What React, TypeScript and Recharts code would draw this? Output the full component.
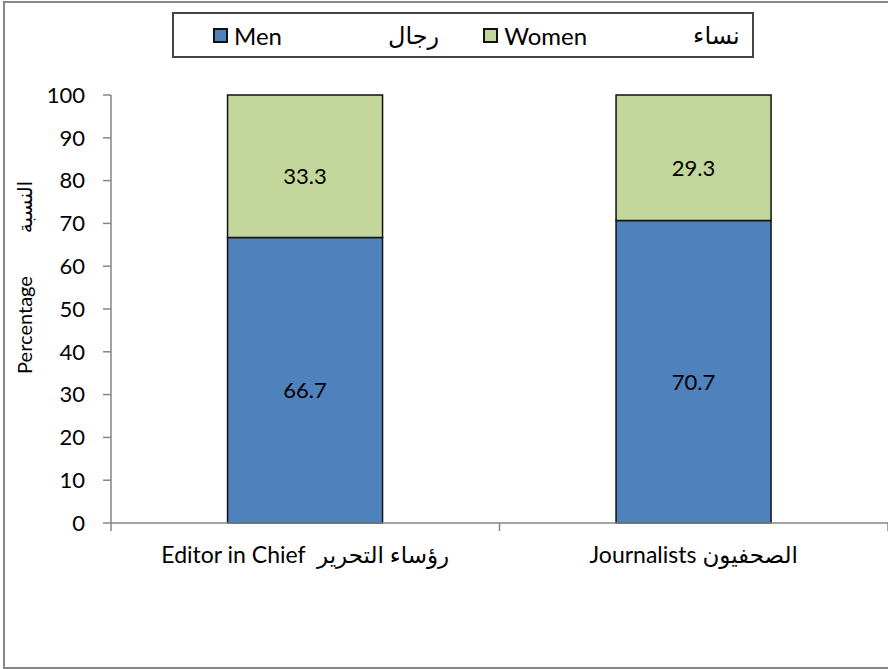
import React from 'react';
import { BarChart, Bar, XAxis, YAxis, LabelList } from 'recharts';

// values
const categories = ['Editor in Chief  رؤساء التحرير', 'Journalists الصحفيون'];
const menValues = [66.7, 70.7];
const womenValues = [33.3, 29.3];
const yTicks = [0, 10, 20, 30, 40, 50, 60, 70, 80, 90, 100];
const seriesKeys = ['men', 'women'];
const seriesEnglish = ['Men', 'Women'];
const seriesArabic = ['رجال', 'نساء'];
const axisTitleEnglish = 'Percentage';
const axisTitleArabic = 'النسبة';

const COLORS = ['#4F81BD', '#C3D69B'];
const FONT = "Lato, 'DejaVu Sans', sans-serif";
const AXIS_GRAY = '#868686';
const TICK_SIZE = 8;
const TICK_MARGIN = 12;

const data = categories.map((name, i) => ({
  name,
  men: menValues[i],
  women: womenValues[i]
}));

function CategoryTick(props: any) {
  const { x, y, payload, index, visibleTicksCount } = props;
  const half = payload && payload.offset ? payload.offset : 0;
  const axisY = y - TICK_SIZE - TICK_MARGIN;
  return (
    <g>
      <line x1={x - half} x2={x - half} y1={axisY} y2={axisY + TICK_SIZE} stroke={AXIS_GRAY} strokeWidth={1.5} />
      {index === visibleTicksCount - 1 && (
        <line x1={x + half} x2={x + half} y1={axisY} y2={axisY + TICK_SIZE} stroke={AXIS_GRAY} strokeWidth={1.5} />
      )}
      <text x={x} y={y} dy={20} textAnchor="middle" fill="#000" fontSize={23} fontFamily={FONT} style={{ whiteSpace: 'pre' }}>
        {payload.value}
      </text>
    </g>
  );
}

function AxisTitle(props: any) {
  const vb = props.viewBox || { x: 0, y: 0, height: 0 };
  const cy = vb.y + vb.height / 2;
  const cx = 32;
  return (
    <g fontFamily={FONT} fontSize={20} fill="#000">
      <text x={cx} y={cy + 16} textAnchor="middle" transform={`rotate(-90 ${cx} ${cy + 16})`}>
        {axisTitleEnglish}
      </text>
      <text x={cx} y={cy - 102} textAnchor="middle" transform={`rotate(-90 ${cx} ${cy - 102})`}>
        {axisTitleArabic}
      </text>
    </g>
  );
}

function LegendBox() {
  return (
    <div
      style={{
        position: 'absolute',
        left: 172,
        top: 12,
        width: 582,
        height: 46,
        boxSizing: 'border-box',
        border: '2px solid #444',
        background: '#fff',
        display: 'flex',
        alignItems: 'center',
        paddingLeft: 39,
        fontFamily: FONT,
        fontSize: 24,
        color: '#000'
      }}
    >
      {seriesKeys.map((k, i) => (
        <div key={k} style={{ display: 'flex', alignItems: 'center', marginRight: 44 }}>
          <span
            style={{
              display: 'inline-block',
              width: 15,
              height: 15,
              boxSizing: 'border-box',
              border: '2px solid #111',
              background: COLORS[i],
              marginRight: 6
            }}
          />
          <span>{seriesEnglish[i]}</span>
          <span style={{ marginLeft: 106 }}>{seriesArabic[i]}</span>
        </div>
      ))}
    </div>
  );
}

export default function App() {
  return (
    <div style={{ position: 'absolute', left: 0, top: 0, width: 888, height: 669, overflow: 'hidden', background: '#fff' }}>
      <div
        style={{
          position: 'absolute',
          left: 3,
          top: 1,
          width: 900,
          height: 668,
          boxSizing: 'border-box',
          border: '2px solid #888'
        }}
      />
      <div style={{ position: 'absolute', left: 0, top: 0 }}>
        <BarChart
          width={888}
          height={669}
          data={data}
          margin={{ top: 95, right: 0, left: 0, bottom: 106 }}
          barCategoryGap="30%"
        >
          <XAxis
            dataKey="name"
            height={40}
            axisLine={{ stroke: AXIS_GRAY, strokeWidth: 1.5 }}
            tickLine={false}
            tickSize={TICK_SIZE}
            tickMargin={TICK_MARGIN}
            tick={<CategoryTick />}
            interval={0}
          />
          <YAxis
            width={111}
            domain={[0, 100]}
            ticks={yTicks}
            interval={0}
            axisLine={{ stroke: AXIS_GRAY, strokeWidth: 1.5 }}
            tickLine={{ stroke: AXIS_GRAY, strokeWidth: 1.5 }}
            tickSize={TICK_SIZE}
            tickMargin={18}
            tick={{ fill: '#000', fontSize: 22, fontFamily: FONT }}
            label={<AxisTitle />}
          />
          {seriesKeys.map((k, i) => (
            <Bar
              key={k}
              dataKey={k}
              stackId="a"
              fill={COLORS[i]}
              stroke="#111"
              strokeWidth={1.5}
              isAnimationActive={false}
            >
              <LabelList dataKey={k} position="center" fill="#000" fontSize={22} fontFamily={FONT} dy={10} />
            </Bar>
          ))}
        </BarChart>
      </div>
      <LegendBox />
    </div>
  );
}
